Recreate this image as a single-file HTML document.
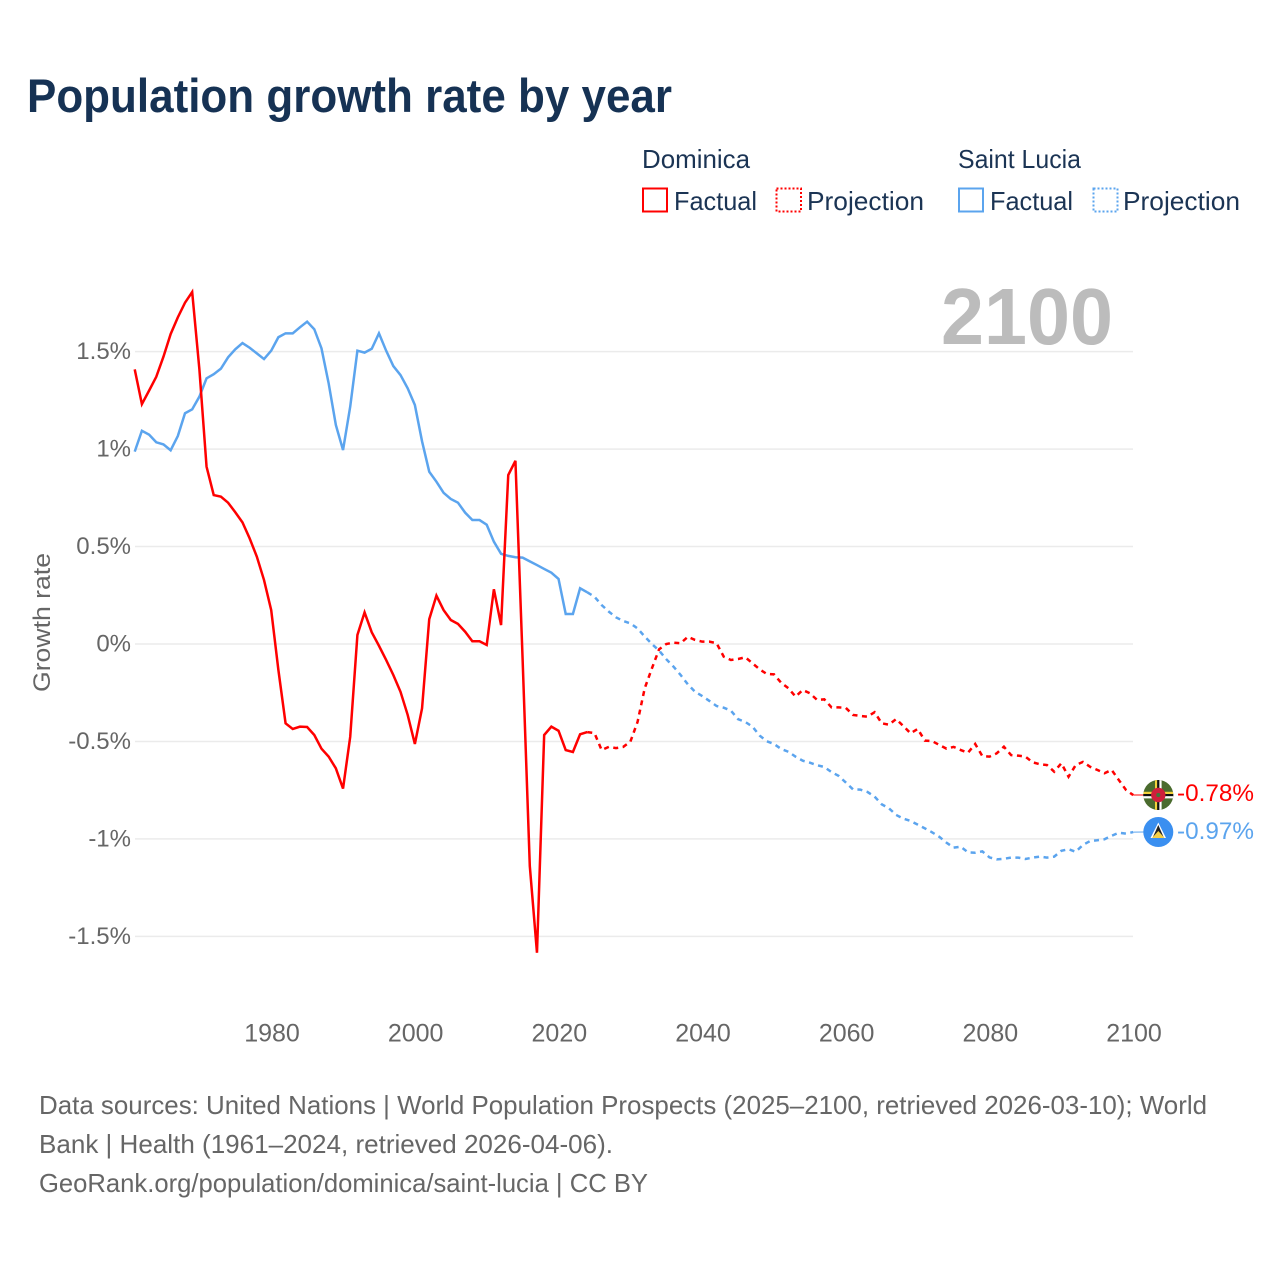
<!DOCTYPE html>
<html lang="en">
<head>
<meta charset="utf-8">
<title>Population growth rate by year</title>
<style>
html,body{margin:0;padding:0;background:#fff;width:1280px;height:1280px;overflow:hidden}
svg{display:block}
text{font-family:"Liberation Sans",sans-serif}
.legend{font-size:26px;fill:#1b3454}
.foot{font-size:26px;fill:#666}
.tick{font-size:24.5px;fill:#666}
.ytick{font-size:24px;fill:#666}
.xtick{font-size:25px;fill:#666}
</style>
</head>
<body>
<svg id="chart" width="1280" height="1280" viewBox="0 0 1280 1280" xmlns="http://www.w3.org/2000/svg">
  <text x="27" y="112" font-size="47" font-weight="700" style="fill:#163254" textLength="645" lengthAdjust="spacingAndGlyphs">Population growth rate by year</text>

  <g>
    <text class="legend" x="642" y="168" textLength="108" lengthAdjust="spacingAndGlyphs">Dominica</text>
    <text class="legend" x="958" y="168" textLength="123" lengthAdjust="spacingAndGlyphs">Saint Lucia</text>
    <rect x="643" y="188.5" width="24" height="23" fill="none" stroke="#ff0000" stroke-width="2"/>
    <text class="legend" x="674" y="210" textLength="83" lengthAdjust="spacingAndGlyphs">Factual</text>
    <rect x="776.5" y="188.5" width="24.5" height="23" fill="none" stroke="#ff0000" stroke-width="2" stroke-dasharray="2 2"/>
    <text class="legend" x="807" y="210" textLength="117" lengthAdjust="spacingAndGlyphs">Projection</text>
    <rect x="959" y="188.5" width="24" height="23" fill="none" stroke="#5ba4ee" stroke-width="2"/>
    <text class="legend" x="990" y="210" textLength="83" lengthAdjust="spacingAndGlyphs">Factual</text>
    <rect x="1093.5" y="188.5" width="24" height="23" fill="none" stroke="#5ba4ee" stroke-width="2" stroke-dasharray="2 2"/>
    <text class="legend" x="1123" y="210" textLength="117" lengthAdjust="spacingAndGlyphs">Projection</text>
  </g>

  <g id="grid"></g>
  <text x="941" y="344" font-size="80" font-weight="700" fill="#bcbcbc" textLength="172" lengthAdjust="spacingAndGlyphs">2100</text>
  <g id="yticks"></g>
  <g id="xticks"></g>
  <text class="tick" transform="translate(50,692) rotate(-90)" x="0" y="0" textLength="139" lengthAdjust="spacingAndGlyphs">Growth rate</text>
  <g id="series"></g>

  <g>
    <clipPath id="clipDm"><circle cx="1158.3" cy="795" r="15"/></clipPath>
    <g clip-path="url(#clipDm)">
      <rect x="1143" y="780" width="31" height="31" fill="#4a6b2e"/>
      <rect x="1155" y="780" width="2.2" height="31" fill="#f2d13a"/>
      <rect x="1157.2" y="780" width="2.2" height="31" fill="#111"/>
      <rect x="1159.4" y="780" width="2.2" height="31" fill="#fff"/>
      <rect x="1143" y="791.8" width="31" height="2.2" fill="#f2d13a"/>
      <rect x="1143" y="794" width="31" height="2.2" fill="#111"/>
      <rect x="1143" y="796.2" width="31" height="2.2" fill="#fff"/>
      <circle cx="1158.3" cy="795" r="7.2" fill="#cf1f3c"/>
      <circle cx="1158.3" cy="795" r="2" fill="#3f7a3a"/>
    </g>
  </g>
  <g>
    <circle cx="1158.3" cy="832" r="15" fill="#3a8ff0"/>
    <polygon points="1158.3,822.5 1150.5,838 1166,838" fill="#ffffff"/>
    <polygon points="1158.3,825 1152.5,838 1164,838" fill="#222222"/>
    <polygon points="1158.3,831 1152,838 1164.6,838" fill="#f5d047"/>
  </g>
  <text x="1177" y="801" font-size="24.5" fill="#ff0000" textLength="77" lengthAdjust="spacingAndGlyphs">-0.78%</text>
  <text x="1177" y="839" font-size="24.5" fill="#5ba4ee" textLength="77" lengthAdjust="spacingAndGlyphs">-0.97%</text>

  <g>
    <text class="foot" x="39" y="1114" textLength="1168" lengthAdjust="spacingAndGlyphs">Data sources: United Nations | World Population Prospects (2025–2100, retrieved 2026-03-10); World</text>
    <text class="foot" x="39" y="1153" textLength="574" lengthAdjust="spacingAndGlyphs">Bank | Health (1961–2024, retrieved 2026-04-06).</text>
    <text class="foot" x="39" y="1192" textLength="609" lengthAdjust="spacingAndGlyphs">GeoRank.org/population/dominica/saint-lucia | CC BY</text>
  </g>
</svg>

<script>
const factualStartYear = 1961;
const projectionStartYear = 2025;
const xTickYears = [1980, 2000, 2020, 2040, 2060, 2080, 2100];
const yTickValues = [1.5, 1, 0.5, 0, -0.5, -1, -1.5];
const yTickLabels = ["1.5%", "1%", "0.5%", "0%", "-0.5%", "-1%", "-1.5%"];

const dominicaFactual = [
  1.409, 1.231, 1.30, 1.371, 1.474, 1.59, 1.676, 1.751, 1.806,
  1.41, 0.91, 0.764, 0.756, 0.725, 0.676, 0.624, 0.542, 0.448, 0.328,
  0.174, -0.133, -0.407, -0.436, -0.424, -0.426, -0.467, -0.537, -0.578, -0.638,
  -0.742, -0.476, 0.046, 0.162, 0.06, -0.009, -0.082, -0.159, -0.245, -0.364,
  -0.513, -0.33, 0.127, 0.248, 0.174, 0.123, 0.103, 0.063, 0.014, 0.014,
  -0.005, 0.281, 0.097, 0.867, 0.94, -0.08, -1.139, -1.584, -0.467, -0.424,
  -0.445, -0.544, -0.554, -0.463, -0.452
];
const dominicaProjection = [
  -0.457, -0.544, -0.528, -0.534, -0.528, -0.501, -0.40, -0.227, -0.125, -0.027,
  0.0, 0.007, 0.004, 0.037, 0.021, 0.012, 0.012, 0.004, -0.065, -0.082,
  -0.077, -0.068, -0.099, -0.13, -0.154, -0.156, -0.199, -0.227, -0.27, -0.236,
  -0.253, -0.287, -0.284, -0.325, -0.325, -0.328, -0.364, -0.369, -0.373, -0.35,
  -0.407, -0.414, -0.385, -0.421, -0.458, -0.436, -0.496, -0.498, -0.518, -0.537,
  -0.528, -0.544, -0.558, -0.513, -0.575, -0.578, -0.561, -0.527, -0.57, -0.573,
  -0.578, -0.607, -0.617, -0.621, -0.655, -0.612, -0.681, -0.621, -0.605, -0.63,
  -0.646, -0.663, -0.646, -0.698, -0.749, -0.775
];
const saintLuciaFactual = [
  0.987, 1.094, 1.074, 1.035, 1.024, 0.994, 1.067, 1.184, 1.204,
  1.269, 1.363, 1.384, 1.413, 1.471, 1.512, 1.544, 1.52, 1.491, 1.462,
  1.505, 1.574, 1.594, 1.594, 1.625, 1.654, 1.615, 1.517, 1.337, 1.124,
  0.995, 1.218, 1.505, 1.495, 1.515, 1.594, 1.505, 1.426, 1.38, 1.312,
  1.226, 1.04, 0.884, 0.833, 0.776, 0.744, 0.725, 0.674, 0.636, 0.636,
  0.612, 0.525, 0.463, 0.452, 0.445, 0.443, 0.424, 0.405, 0.385, 0.366,
  0.334, 0.154, 0.154, 0.286, 0.265
];
const saintLuciaProjection = [
  0.243, 0.2, 0.166, 0.137, 0.118, 0.106, 0.08, 0.038, 0.0, -0.034,
  -0.078, -0.116, -0.159, -0.207, -0.245, -0.267, -0.292, -0.318, -0.327, -0.342,
  -0.386, -0.40, -0.424, -0.47, -0.499, -0.513, -0.539, -0.553, -0.578, -0.599,
  -0.609, -0.622, -0.631, -0.657, -0.677, -0.711, -0.746, -0.747, -0.759, -0.783,
  -0.823, -0.843, -0.877, -0.896, -0.908, -0.927, -0.946, -0.966, -0.989, -1.019,
  -1.045, -1.04, -1.069, -1.071, -1.064, -1.095, -1.105, -1.102, -1.096, -1.096,
  -1.103, -1.096, -1.091, -1.096, -1.091, -1.061, -1.053, -1.066, -1.031, -1.011,
  -1.007, -1.002, -0.984, -0.968, -0.973, -0.965
];

const SVGNS = "http://www.w3.org/2000/svg";
function xScale(year) { return 271.2 + (year - 1980) * (1133.2 - 271.2) / 120; }
function yScale(v) { return 644 - v * 194.9; }

function linePath(startYear, values, prefixYear, prefixValue) {
  const pts = [];
  if (prefixYear !== undefined) pts.push([xScale(prefixYear), yScale(prefixValue)]);
  values.forEach(function (v, i) { pts.push([xScale(startYear + i), yScale(v)]); });
  return "M" + pts.map(function (p) { return p[0].toFixed(2) + " " + p[1].toFixed(2); }).join("L");
}

const grid = document.getElementById("grid");
const yticks = document.getElementById("yticks");
yTickValues.forEach(function (v, i) {
  const ln = document.createElementNS(SVGNS, "line");
  
  
  ln.setAttribute("x1", 135);
  ln.setAttribute("x2", 1133);
  ln.setAttribute("y1", yScale(v));
  ln.setAttribute("y2", yScale(v));
  ln.setAttribute("stroke", "#ebebeb");
  ln.setAttribute("stroke-width", "1.5");
  grid.appendChild(ln);
  const t = document.createElementNS(SVGNS, "text");
  
  
  t.setAttribute("class", "ytick");
  t.setAttribute("x", 131);
  t.setAttribute("y", yScale(v) + 7.5);
  t.setAttribute("text-anchor", "end");
  t.textContent = yTickLabels[i];
  yticks.appendChild(t);
});

const xticks = document.getElementById("xticks");
xTickYears.forEach(function (y) {
  const t = document.createElementNS(SVGNS, "text");
  
  
  t.setAttribute("class", "xtick");
  t.setAttribute("x", xScale(y) + 0.8);
  t.setAttribute("y", 1041.5);
  t.setAttribute("text-anchor", "middle");
  t.textContent = y;
  xticks.appendChild(t);
});

const series = document.getElementById("series");

const blueFactual = document.createElementNS(SVGNS, "path");


blueFactual.setAttribute("d", linePath(factualStartYear, saintLuciaFactual));
blueFactual.setAttribute("fill", "none");
blueFactual.setAttribute("stroke", "#5ba4ee");
blueFactual.setAttribute("stroke-width", "2.5");
series.appendChild(blueFactual);

const blueProjection = document.createElementNS(SVGNS, "path");


blueProjection.setAttribute("d", linePath(projectionStartYear, saintLuciaProjection, 2024, saintLuciaFactual[saintLuciaFactual.length - 1]));
blueProjection.setAttribute("fill", "none");
blueProjection.setAttribute("stroke", "#5ba4ee");
blueProjection.setAttribute("stroke-width", "2.5");
blueProjection.setAttribute("stroke-dasharray", "5 4.5");
series.appendChild(blueProjection);

const redFactual = document.createElementNS(SVGNS, "path");


redFactual.setAttribute("d", linePath(factualStartYear, dominicaFactual));
redFactual.setAttribute("fill", "none");
redFactual.setAttribute("stroke", "#ff0000");
redFactual.setAttribute("stroke-width", "2.5");
series.appendChild(redFactual);

const redProjection = document.createElementNS(SVGNS, "path");


redProjection.setAttribute("d", linePath(projectionStartYear, dominicaProjection, 2024, dominicaFactual[dominicaFactual.length - 1]));
redProjection.setAttribute("fill", "none");
redProjection.setAttribute("stroke", "#ff0000");
redProjection.setAttribute("stroke-width", "2.5");
redProjection.setAttribute("stroke-dasharray", "5 4.5");
series.appendChild(redProjection);

const redLeader = document.createElementNS(SVGNS, "line");


redLeader.setAttribute("x1", xScale(2100));
redLeader.setAttribute("x2", 1145);
redLeader.setAttribute("y1", yScale(dominicaProjection[dominicaProjection.length - 1]));
redLeader.setAttribute("y2", 795);
redLeader.setAttribute("stroke", "#ff0000");
redLeader.setAttribute("stroke-width", "1");
series.appendChild(redLeader);

const blueLeader = document.createElementNS(SVGNS, "line");


blueLeader.setAttribute("x1", xScale(2100));
blueLeader.setAttribute("x2", 1145);
blueLeader.setAttribute("y1", yScale(saintLuciaProjection[saintLuciaProjection.length - 1]));
blueLeader.setAttribute("y2", 832);
blueLeader.setAttribute("stroke", "#5ba4ee");
blueLeader.setAttribute("stroke-width", "1");
series.appendChild(blueLeader);
</script>
</body>
</html>
